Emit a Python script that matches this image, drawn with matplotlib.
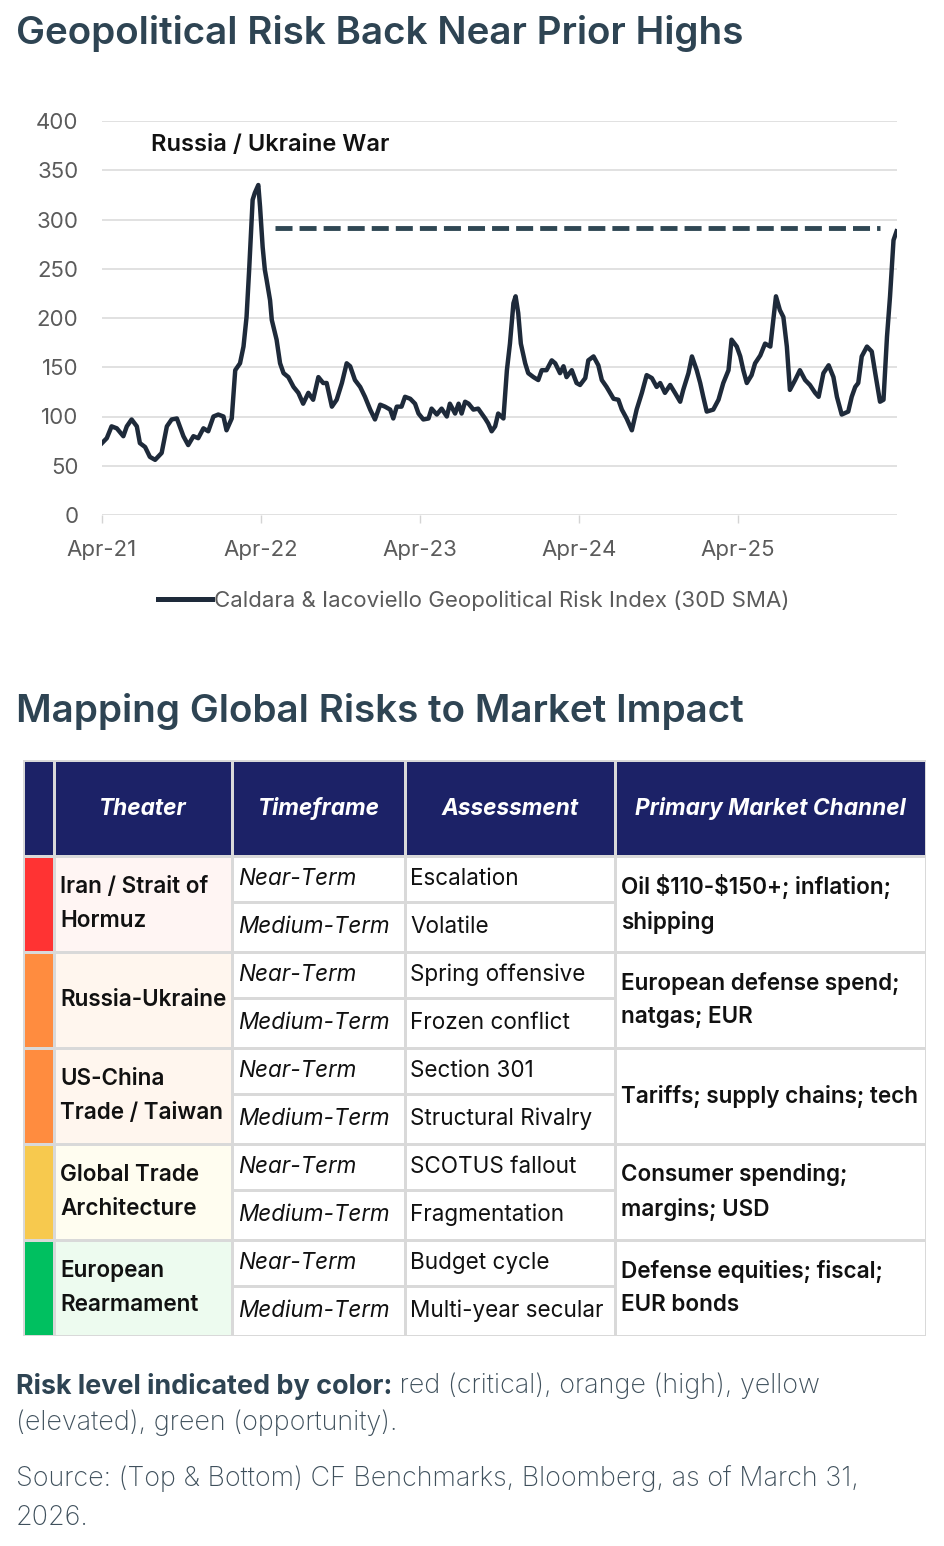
import matplotlib.pyplot as plt
from matplotlib.patches import Rectangle
from matplotlib.lines import Line2D
import pandas as pd

plt.rcParams['font.family'] = ['Inter', 'DejaVu Sans']

# --- chart data, days since 2021-04-01 ---
start = pd.Timestamp('2021-04-01')
day_offset = [0, 11, 22, 34, 49, 57, 68, 80, 87, 99,
              110, 122, 137, 149, 160, 172, 187, 198, 210, 221,
              233, 244, 256, 267, 279, 286, 298, 306, 317, 325,
              332, 338, 346, 351, 359, 363, 369, 374, 378, 386,
              390, 401, 409, 417, 428, 440, 451, 462, 474, 485,
              497, 508, 516, 528, 539, 551, 562, 570, 581, 593,
              604, 616, 627, 639, 650, 662, 669, 677, 688, 696,
              708, 719, 727, 738, 750, 757, 769, 780, 792, 799,
              811, 819, 826, 834, 842, 853, 864,
              880, 887, 895, 903, 910, 922, 930, 937, 945, 950,
              956, 962, 972, 979, 991, 1002, 1010, 1021, 1033, 1041,
              1052, 1060, 1067, 1079, 1090, 1098, 1110, 1117, 1129, 1140,
              1148, 1159, 1175, 1186, 1194, 1205, 1217, 1228, 1240, 1251,
              1263, 1274, 1282, 1293, 1305, 1316, 1328, 1335, 1347, 1355,
              1366, 1374, 1381, 1389, 1404, 1416, 1427, 1439, 1446, 1458,
              1466, 1473, 1481, 1492, 1500, 1512, 1523, 1535, 1542, 1548,
              1557, 1565, 1573, 1580, 1592, 1603, 1615, 1626, 1638, 1646,
              1657, 1669, 1680, 1688, 1699, 1714, 1722, 1730, 1737, 1745,
              1757, 1768, 1776, 1787, 1795, 1803, 1810, 1818, 1825]
gpr = [73, 78, 90, 88, 80, 90, 97, 90, 73, 69,
       59, 56, 63, 90, 97, 98, 80, 71, 80, 78,
       88, 85, 100, 102, 100, 86, 98, 147, 154, 171,
       201, 249, 320, 327, 335, 313, 272, 249, 239, 218,
       198, 178, 154, 144, 140, 130, 124, 113, 124, 117,
       140, 134, 134, 110, 117, 134, 154, 151, 137, 130,
       120, 107, 97, 112, 110, 107, 98, 110, 110, 120,
       118, 113, 103, 97, 98, 108, 102, 108, 100, 113,
       103, 113, 103, 115, 113, 107, 108,
       98, 93, 85, 90, 103, 98, 147, 174, 215, 222,
       205, 174, 154, 144, 140, 137, 147, 147, 157, 154,
       144, 151, 140, 147, 134, 132, 139, 157, 161, 152,
       137, 130, 118, 117, 107, 98, 86, 107, 124, 142,
       139, 130, 134, 124, 132, 124, 115, 127, 144, 161,
       147, 134, 120, 105, 107, 117, 134, 147, 178, 171,
       161, 147, 134, 142, 154, 162, 174, 171, 198, 222,
       208, 201, 171, 127, 137, 147, 137, 132, 124, 120,
       144, 152, 140, 120, 102, 105, 120, 130, 134, 161,
       171, 166, 144, 115, 117, 181, 222, 279, 288]
prior_high = 291
prior_high_span = ['2022-05-03', '2026-02-21']
tick_dates = ['2021-04-01', '2022-04-01', '2023-04-01', '2024-04-01', '2025-04-01']
tick_labels = ['Apr-21', 'Apr-22', 'Apr-23', 'Apr-24', 'Apr-25']
series_name = 'Caldara & Iacoviello Geopolitical Risk Index (30D SMA)'

# --- table data ---
headers = ['Theater', 'Timeframe', 'Assessment', 'Primary Market Channel']
theaters = ['Iran / Strait of\nHormuz', 'Russia-Ukraine', 'US-China\nTrade / Taiwan',
            'Global Trade\nArchitecture', 'European\nRearmament']
near_assess = ['Escalation', 'Spring offensive', 'Section 301', 'SCOTUS fallout', 'Budget cycle']
medium_assess = ['Volatile', 'Frozen conflict', 'Structural Rivalry', 'Fragmentation',
                 'Multi-year secular']
channels = ['Oil $110-$150+; inflation;\nshipping', 'European defense spend;\nnatgas; EUR',
            'Tariffs; supply chains; tech', 'Consumer spending;\nmargins; USD',
            'Defense equities; fiscal;\nEUR bonds']
risk_colors = ['#ff3333', '#ff8c3f', '#ff8c3f', '#f7c94e', '#00c060']
tint_colors = ['#fff5f3', '#fff6ee', '#fff6ee', '#fffdf0', '#edfbef']

W, H = 944, 1546
TITLE_C = '#2e4453'
fig = plt.figure(figsize=(W / 100, H / 100), dpi=100)
bg = fig.add_axes([0, 0, 1, 1])
bg.set_xlim(0, W)
bg.set_ylim(H, 0)
bg.axis('off')

bg.text(16, 34, 'Geopolitical Risk Back Near Prior Highs', fontsize=27.8, weight='semibold',
        color=TITLE_C, va='center', ha='left')
bg.text(16, 711, 'Mapping Global Risks to Market Impact', fontsize=27.8, weight='semibold',
        color=TITLE_C, va='center', ha='left')

# --- line chart ---
ax = fig.add_axes([102 / W, 1 - 515 / H, 795 / W, 394 / H])
ax.set_facecolor('none')
dates = start + pd.to_timedelta(day_offset, unit='D')
ax.plot(dates, gpr, color='#1e2a3a', lw=3.2, solid_joinstyle='round')
ax.hlines(prior_high, pd.Timestamp(prior_high_span[0]), pd.Timestamp(prior_high_span[1]),
          colors='#2f4753', lw=3.5, linestyles=(0, (3.5, 1.45)))
ax.set_xlim(start, pd.Timestamp('2026-04-01'))
ax.set_ylim(0, 400)
ax.set_yticks(range(0, 401, 50))
ax.set_xticks(pd.to_datetime(tick_dates))
ax.set_xticklabels(tick_labels)
ax.yaxis.grid(True, color='#dcdcdc', lw=1.2)
ax.set_axisbelow(True)
for s in ax.spines.values():
    s.set_visible(False)
ax.tick_params(axis='y', length=0, pad=17, labelsize=16, labelcolor='#5b5b5b')
ax.tick_params(axis='x', length=6, width=1, color='#d4d4d4', pad=12, labelsize=16,
               labelcolor='#5b5b5b')

ax.text(0.062, 0.94, 'Russia / Ukraine War', transform=ax.transAxes, fontsize=17,
        weight='semibold', color='#111111', va='center', ha='left')

proxy = Line2D([], [], color='#1e2a3a', lw=3.6)
ax.legend([proxy], [series_name], loc='center', bbox_to_anchor=(474 / W, 1 - 601 / H),
          bbox_transform=fig.transFigure, frameon=False, fontsize=16, labelcolor='#5b5b5b',
          handlelength=2.4, handletextpad=0.1)

# --- table ---
col_x = [23, 54, 232, 405, 615, 926]
top, head_h, block_h, near_h = 760, 96, 96, 46
NAVY = '#1c2267'
GRID = '#d9d9d9'
tb_bottom = top + head_h + block_h * len(theaters)
bg.add_patch(Rectangle((col_x[0], top), col_x[-1] - col_x[0], tb_bottom - top,
                       facecolor=GRID, edgecolor='none'))


def cell(x0, x1, y0, y1, color):
    bg.add_patch(Rectangle((x0 + 1.5, y0 + 1.5), x1 - x0 - 3, y1 - y0 - 3,
                           facecolor=color, edgecolor='none'))


for i in range(5):
    cell(col_x[i], col_x[i + 1], top, top + head_h, NAVY)
for i, h in enumerate(headers):
    bg.text((col_x[i + 1] + col_x[i + 2]) / 2, top + head_h / 2 + 1, h, color='white',
            fontsize=16.3, weight='bold', style='italic', ha='center', va='center')

CELL_FS = 16.2
for r in range(len(theaters)):
    y0 = top + head_h + r * block_h
    y1 = y0 + block_h
    ym = y0 + near_h
    cell(col_x[0], col_x[1], y0, y1, risk_colors[r])
    cell(col_x[1], col_x[2], y0, y1, tint_colors[r])
    cell(col_x[2], col_x[3], y0, ym, 'white')
    cell(col_x[2], col_x[3], ym, y1, 'white')
    cell(col_x[3], col_x[4], y0, ym, 'white')
    cell(col_x[3], col_x[4], ym, y1, 'white')
    cell(col_x[4], col_x[5], y0, y1, 'white')
    yc = (y0 + y1) / 2
    bg.text(col_x[1] + 6, yc, theaters[r], fontsize=CELL_FS, weight='semibold',
            color='#111111', ha='left', va='center', linespacing=1.68)
    bg.text(col_x[4] + 6, yc, channels[r], fontsize=CELL_FS, weight='semibold',
            color='#111111', ha='left', va='center', linespacing=1.68, parse_math=False)
    bg.text(col_x[2] + 6, (y0 + ym) / 2, 'Near-Term', fontsize=CELL_FS, style='italic',
            color='#111111', ha='left', va='center')
    bg.text(col_x[2] + 6, (ym + y1) / 2, 'Medium-Term', fontsize=CELL_FS, style='italic',
            color='#111111', ha='left', va='center')
    bg.text(col_x[3] + 5, (y0 + ym) / 2, near_assess[r], fontsize=CELL_FS,
            color='#111111', ha='left', va='center')
    bg.text(col_x[3] + 5, (ym + y1) / 2, medium_assess[r], fontsize=CELL_FS,
            color='#111111', ha='left', va='center')

# --- footnotes ---
NOTE_C = '#3f505c'
NOTE_FS = 19.4
t = bg.text(16, 1386, 'Risk level indicated by color:', fontsize=NOTE_FS, weight='bold',
            color=TITLE_C, ha='left', va='center')
bg.annotate(' red (critical), orange (high), yellow', xy=(1, 0.5), xycoords=t,
            fontsize=NOTE_FS, weight='light', color=NOTE_C, ha='left', va='center')
bg.text(16, 1423, '(elevated), green (opportunity).', fontsize=NOTE_FS, weight='light',
        color=NOTE_C, ha='left', va='center')
bg.text(16, 1479, 'Source: (Top & Bottom) CF Benchmarks, Bloomberg, as of March 31,',
        fontsize=NOTE_FS, weight='light', color=NOTE_C, ha='left', va='center')
bg.text(16, 1518, '2026.', fontsize=NOTE_FS, weight='light', color=NOTE_C, ha='left',
        va='center')

fig.savefig('out.png', dpi=100)
